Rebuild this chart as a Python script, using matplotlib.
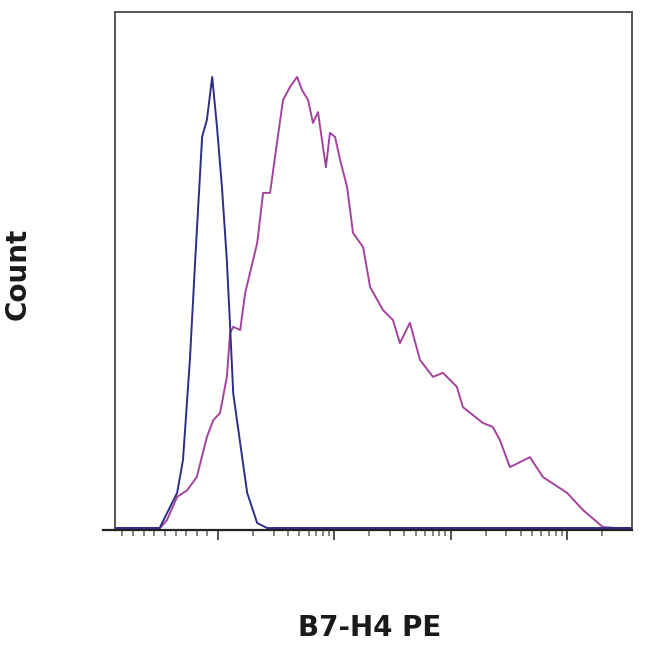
import matplotlib
matplotlib.use("Agg")
import matplotlib.pyplot as plt
from matplotlib.ticker import FixedLocator, NullFormatter

# Fluorescence intensity (B7-H4 PE) and count (% of max)
control_x = [-94, -10, 23, 34, 47, 57, 70, 79, 89, 98, 108, 119, 127, 135, 155, 178, 217, 264, 362000]
control_y = [0, 0, 7.8, 15.1, 37.3, 59.4, 86.7, 90.5, 100, 88.9, 75.6, 59.4, 44.6, 29.9, 18.8, 7.8, 1.1, 0, 0]

stained_x = [-94, -9, 4, 23, 42, 60, 79, 91, 104, 119, 127, 135, 155, 171, 188, 217, 244, 280,
             321, 362, 416, 478, 527, 594, 655, 723, 798, 846, 916, 1014, 1120, 1286, 1447, 1765,
             2030, 2620, 3190, 3660, 4460, 5440, 7040, 8580, 11300, 12740, 18900, 23000, 26500,
             32300, 48000, 62100, 100000, 137100, 203600, 269600, 362000]
stained_y = [0, 0, 1.8, 6.9, 8.4, 11.3, 20.2, 23.9, 25.5, 33.5, 43.2, 44.6, 43.9, 52.1, 56.5, 63.2,
             74.3, 74.3, 85.4, 94.9, 97.8, 100, 97.1, 94.9, 89.8, 92.2, 84.5, 80.0, 87.6, 86.7,
             81.6, 75.6, 65.4, 62.3, 53.4, 48.3, 46.1, 41.0, 45.5, 37.3, 33.5, 34.4, 31.3, 26.8,
             23.3, 22.4, 19.5, 13.5, 15.7, 11.3, 7.8, 4.0, 0.2, 0, 0]

major_ticks = [100, 1000, 10000, 100000]
minor_ticks = [-80, -60, -40, -20, 0, 20, 40, 60, 80] + \
    [k * 10 ** d for d in (2, 3, 4) for k in range(2, 10)] + [200000]

x_label = "B7-H4 PE"
y_label = "Count"

fig = plt.figure(figsize=(6.5, 6.5), dpi=100)
ax = fig.add_axes([115 / 650, 1 - 530 / 650, 517 / 650, 518 / 650])

ax.set_xscale("symlog", linthresh=100, linscale=0.411)
ax.plot(control_x, control_y, color="#2e2e86", lw=1.4, zorder=3, solid_joinstyle="round")
ax.plot(stained_x, stained_y, color="#a3439f", lw=1.4, zorder=2, solid_joinstyle="round")

ax.set_xlim(-94, 362000)
ax.set_ylim(-0.44, 114.4)

ax.xaxis.set_major_locator(FixedLocator(major_ticks))
ax.xaxis.set_minor_locator(FixedLocator(minor_ticks))
ax.xaxis.set_major_formatter(NullFormatter())
ax.xaxis.set_minor_formatter(NullFormatter())
ax.tick_params(axis="x", which="major", direction="out", length=7, width=1.3, color="#444444")
ax.tick_params(axis="x", which="minor", direction="out", length=4, width=1.1, color="#666666")
ax.set_yticks([])

for side in ["top", "left", "right"]:
    ax.spines[side].set_color("#555555")
    ax.spines[side].set_linewidth(1.4)
ax.spines["bottom"].set_color("#222222")
ax.spines["bottom"].set_linewidth(1.6)

# bottom axis line extends slightly to the left of the frame
ax.plot([-12 / 517, 0], [0, 0], transform=ax.transAxes, color="#222222", lw=1.6, clip_on=False)

fig.text(370 / 650, 1 - 628 / 650, x_label, ha="center", va="center",
         fontsize=20, fontweight="bold", family="DejaVu Sans", color="#1a1a1a")
fig.text(18 / 650, 1 - 274 / 650, y_label, ha="center", va="center", rotation=90,
         fontsize=20, fontweight="bold", family="DejaVu Sans", color="#1a1a1a")

fig.savefig("out.png", dpi=100, facecolor="white")
